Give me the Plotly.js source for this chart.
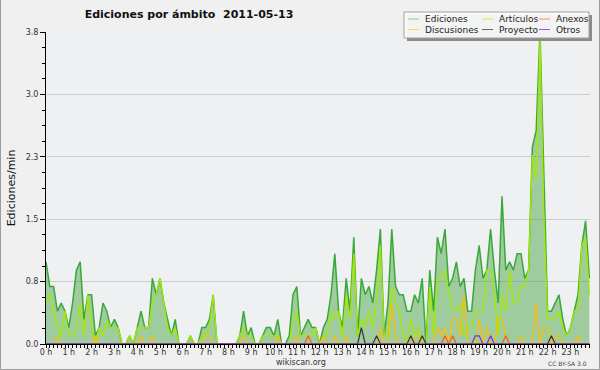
<!DOCTYPE html>
<html>
<head>
<meta charset="utf-8">
<script src="https://cdn.plot.ly/plotly-3.0.1.min.js"></script>
<style>html,body{margin:0;padding:0;background:#f0f0f0;overflow:hidden}#chart{width:600px;height:370px}</style>
</head>
<body>
<div id="chart"></div>
<script>
// ---- data: edits per minute, 10-minute bins, 2011-05-13 ----
const ediciones = [
  1.0,0.7,0.7,0.4,0.5,0.4,0.2,0.5,0.9,1.0,0.3,0.6,
  0.6,0.1,0.2,0.5,0.4,0.2,0.3,0.2,0,0,0.1,0,
  0.2,0.4,0.2,0.2,0.8,0.6,0.8,0.5,0.3,0.1,0.3,0,
  0,0,0.1,0,0,0.2,0.2,0.3,0.6,0,0,0,
  0,0,0,0.1,0.4,0.1,0.2,0,0,0.1,0.2,0.2,
  0.1,0.3,0,0,0.1,0.6,0.7,0.1,0.2,0.3,0.2,0.2,
  0,0.2,0.3,0.6,1.1,0.4,0.2,0.8,0.4,1.3,0.1,0.8,
  0.6,0.7,0.5,0.9,1.4,0.1,0.5,1.4,0.7,0.6,0.6,0.4,
  0.4,0.6,0.5,0.8,0,0.9,0.4,1.3,1.1,1.4,0.7,0.8,
  1.0,0.7,0.8,0.4,0.4,0.9,1.2,0.8,0.9,1.4,0.9,0.5,
  1.8,0.9,1.0,0.9,1.1,1.1,0.8,0.9,2.4,2.6,3.8,2.0,
  0.4,0.4,0.5,0.6,0.3,0.1,0.2,0.4,0.6,1.2,1.5,0.8
];
const articulos = [
  0.5,0.6,0.4,0.2,0.1,0.4,0.1,0.1,0.2,0.5,0.1,0.6,
  0.2,0,0.2,0.1,0.3,0.2,0.2,0.2,0,0,0.1,0,
  0.2,0.2,0.2,0.2,0.5,0.6,0.8,0.5,0.2,0.1,0.2,0,
  0,0,0.1,0,0,0.1,0.1,0.2,0.6,0,0,0,
  0,0,0,0.1,0.2,0.1,0.1,0,0,0.1,0.1,0.1,
  0.1,0.1,0,0,0,0.3,0.4,0.1,0.1,0.1,0.1,0.2,
  0,0.1,0.1,0.4,0.3,0.4,0.1,0.6,0.3,1.1,0.1,0.3,
  0.2,0.4,0.2,0.5,1.2,0.1,0.1,0.7,0.5,0.4,0.1,0,
  0.3,0.1,0.2,0,0,0.7,0.1,0.8,0.8,0.9,0.6,0.4,
  0.4,0.5,0.1,0.2,0.2,0.4,0.4,0.4,0.9,0.9,0.6,0.1,
  0.6,0.4,0.9,0.5,0.5,0.7,0.7,0.9,2.3,2.0,3.7,1.6,
  0.3,0.3,0.3,0.4,0.2,0.1,0.2,0.4,0.4,1.2,1.3,0.6
];
const discusiones = [
  0,0,0,0.1,0,0,0,0,0,0,0,0,
  0,0.1,0,0,0,0,0,0,0,0,0,0,
  0,0.1,0,0,0.1,0,0,0,0,0,0,0,
  0,0,0,0,0,0,0.1,0.1,0,0,0,0,
  0,0,0,0,0.1,0,0,0,0,0,0,0,
  0,0.1,0,0,0,0,0.1,0,0,0,0,0,
  0,0.1,0,0,0.1,0,0,0.1,0,0,0,0,
  0,0,0,0,0.2,0,0,0.5,0.1,0,0,0,
  0,0.1,0.1,0,0,0,0,0.2,0.1,0.2,0,0.3,
  0.3,0.1,0.6,0,0,0,0.3,0,0.2,0,0,0.3,
  0.3,0.1,0,0,0,0.1,0,0,0,0.5,0,0.2,
  0.2,0,0.1,0.1,0,0,0,0,0.1,0,0,0
];
const anexos = [
  0,0,0,0,0,0,0,0,0,0,0,0,
  0,0,0,0,0,0,0,0,0,0,0,0,
  0,0,0,0,0,0,0,0,0,0,0,0,
  0,0,0,0,0,0,0,0,0,0,0,0,
  0,0,0,0,0,0,0,0,0,0,0,0,
  0,0,0,0,0,0,0,0,0,0.1,0,0,
  0,0,0,0,0,0,0,0,0,0,0,0,
  0,0,0,0,0,0,0,0,0,0,0,0,
  0,0,0,0,0,0,0,0,0,0.1,0,0.1,
  0,0,0,0,0,0,0,0,0,0,0,0,
  0,0.1,0,0,0,0,0,0,0,0,0,0,
  0,0,0,0,0,0,0,0,0,0,0,0
];
const proyecto = [
  0,0,0,0,0,0,0,0,0,0,0,0,
  0,0,0,0,0,0,0,0,0,0,0,0,
  0,0,0,0,0,0,0,0,0,0,0,0,
  0,0,0,0,0,0,0,0,0,0,0,0,
  0,0,0,0,0,0,0,0,0,0,0,0,
  0,0,0,0,0,0,0,0,0,0,0,0,
  0,0,0,0,0,0,0,0,0,0,0,0.2,
  0,0,0,0.1,0,0,0,0,0,0,0,0,
  0.1,0,0,0.1,0,0,0,0,0,0,0,0,
  0,0,0,0,0,0,0,0,0,0,0,0,
  0,0,0,0,0,0,0,0,0,0,0,0,
  0,0.1,0,0,0,0,0,0,0,0,0,0
];
const otros = [
  0,0,0,0,0,0,0,0,0,0,0,0,
  0,0,0,0,0,0,0,0,0,0,0,0,
  0,0,0,0,0,0,0,0,0,0,0,0,
  0,0,0,0,0,0,0,0,0,0,0,0,
  0,0,0,0,0,0,0,0,0,0,0,0,
  0,0,0,0,0,0,0,0,0,0,0,0,
  0,0,0,0,0,0,0,0,0,0,0,0,
  0,0,0,0,0,0,0,0,0,0,0,0,
  0,0,0,0,0,0,0,0,0,0,0,0,
  0,0,0,0,0,0.1,0.1,0,0,0.1,0,0,
  0,0,0,0,0,0,0,0,0,0,0,0,
  0,0,0,0,0,0,0,0,0,0,0,0
];
const hourTicks = [0,1,2,3,4,5,6,7,8,9,10,11,12,13,14,15,16,17,18,19,20,21,22,23];
const hourLabels = ['0 h','1 h','2 h','3 h','4 h','5 h','6 h','7 h','8 h','9 h','10 h','11 h',
                    '12 h','13 h','14 h','15 h','16 h','17 h','18 h','19 h','20 h','21 h','22 h','23 h'];
const yTicks = [0,0.76,1.52,2.28,3.04,3.8];
const yLabels = ['0.0','0.8','1.5','2.3','3.0','3.8'];
const seriesNames = ['Ediciones','Artículos','Anexos','Discusiones','Proyecto','Otros'];

// x positions: each bin is 10 minutes (1/6 hour)
const hours = ediciones.map((_, i) => i / 6);

// ---- geometry helpers (pixels -> paper) ----
const W = 600, H = 370, ML = 46, MR = 10, MT = 32, MB = 26;
const PW = W - ML - MR, PH = H - MT - MB;
const px = x => (x - ML) / PW;
const py = y => (H - MB - y) / PH;

const colors = {
  Ediciones: '#3aa83a', Artículos: '#a6e800', Anexos: '#ff5a10',
  Discusiones: '#ffbe00', Proyecto: '#333333', Otros: '#7a2cf0'
};
const legendColors = {
  Ediciones: '#86cc86', Artículos: '#c8ec50', Anexos: '#ff8a5a',
  Discusiones: '#ffd65a', Proyecto: '#666666', Otros: '#9a55f0'
};

const traces = [
  {x: hours, y: ediciones, name: seriesNames[0], type: 'scatter', mode: 'lines',
   fill: 'tozeroy', fillcolor: 'rgba(60,160,60,0.45)', line: {color: colors.Ediciones, width: 1.5}},
  {x: hours, y: articulos, name: seriesNames[1], type: 'scatter', mode: 'lines', line: {color: colors['Artículos'], width: 1.3}},
  {x: hours, y: discusiones, name: seriesNames[3], type: 'scatter', mode: 'lines', line: {color: colors.Discusiones, width: 1.2}},
  {x: hours, y: anexos, name: seriesNames[2], type: 'scatter', mode: 'lines', line: {color: colors.Anexos, width: 1.2}},
  {x: hours, y: proyecto, name: seriesNames[4], type: 'scatter', mode: 'lines', line: {color: colors.Proyecto, width: 1.2}},
  {x: hours, y: otros, name: seriesNames[5], type: 'scatter', mode: 'lines', line: {color: colors.Otros, width: 1.2}}
];

// manual legend (3 columns x 2 rows)
const legCols = [408, 482, 539];
const legRows = [19, 29.5];
const shapes = [
  // outer frame
  {type: 'rect', xref: 'paper', yref: 'paper', x0: px(0.5), x1: px(599.5), y0: py(369.5), y1: py(-4),
   line: {color: '#9c9c9c', width: 1}, fillcolor: 'rgba(0,0,0,0)', layer: 'above'},
  // legend shadow
  {type: 'rect', xref: 'paper', yref: 'paper', x0: px(407), x1: px(592), y0: py(41), y1: py(15),
   line: {width: 0}, fillcolor: '#8a8a8a', layer: 'above'},
  // legend box
  {type: 'rect', xref: 'paper', yref: 'paper', x0: px(404), x1: px(589), y0: py(38), y1: py(12),
   line: {color: '#a0a0a0', width: 1}, fillcolor: 'rgba(250,250,250,0.94)', layer: 'above'}
];
const annotations = [
  {text: 'wikiscan.org', xref: 'paper', yref: 'paper', x: px(301), y: py(362), xanchor: 'center', yanchor: 'middle',
   showarrow: false, font: {family: 'DejaVu Sans', size: 8, color: '#333'}},
  {text: 'CC BY-SA 3.0', xref: 'paper', yref: 'paper', x: px(589), y: py(363), xanchor: 'right', yanchor: 'middle',
   showarrow: false, font: {family: 'DejaVu Sans', size: 6, color: '#444'}}
];
seriesNames.forEach((name, k) => {
  const col = k % 3, row = Math.floor(k / 3);
  const x0 = legCols[col], y = legRows[row];
  shapes.push({type: 'line', xref: 'paper', yref: 'paper', x0: px(x0), x1: px(x0 + 11), y0: py(y), y1: py(y),
               line: {color: legendColors[name], width: 1}, layer: 'above'});
  annotations.push({text: name, xref: 'paper', yref: 'paper', x: px(x0 + 15), y: py(y), xanchor: 'left', yanchor: 'middle',
                    showarrow: false, font: {family: 'DejaVu Sans', size: 9, color: '#222'}});
});

const layout = {
  width: W, height: H,
  margin: {l: ML, r: MR, t: MT, b: MB, pad: 0},
  paper_bgcolor: '#f0f0f0', plot_bgcolor: '#eff0f1',
  font: {family: 'DejaVu Sans', size: 8, color: '#333'},
  showlegend: false,
  title: {text: 'Ediciones por ámbito \u00a02011-05-13', xref: 'paper', x: px(189), xanchor: 'center',
          yref: 'container', y: 1 - 14 / H, yanchor: 'middle',
          font: {family: 'DejaVu Sans', size: 11, weight: 'bold', color: '#111'}},
  xaxis: {range: [0, 23.86], tickmode: 'array', tickvals: hourTicks, ticktext: hourLabels,
          ticks: 'outside', ticklen: 3, tickwidth: 1, tickcolor: '#000', ticklabelstandoff: -3,
          showline: true, linecolor: '#000', linewidth: 1, showgrid: false, zeroline: false,
          tickfont: {family: 'DejaVu Sans', size: 8, color: '#333'},
          minor: {tickmode: 'linear', tick0: 0, dtick: 1 / 6, ticks: 'outside', ticklen: 3, tickwidth: 1, tickcolor: '#000', showgrid: false},
          fixedrange: true},
  yaxis: {range: [0, 3.8], tickmode: 'array', tickvals: yTicks, ticktext: yLabels,
          ticks: 'outside', ticklen: 5, tickwidth: 1, tickcolor: '#000',
          showline: true, linecolor: '#000', linewidth: 1, zeroline: false,
          showgrid: true, gridcolor: '#cdcdcd', gridwidth: 1,
          tickfont: {family: 'DejaVu Sans', size: 8, color: '#333'},
          minor: {tickmode: 'linear', tick0: 0, dtick: 0.19, ticks: 'outside', ticklen: 3, tickwidth: 1, tickcolor: '#000', showgrid: false},
          title: {text: 'Ediciones/min', standoff: 7, font: {family: 'DejaVu Sans', size: 11, color: '#111'}},
          fixedrange: true},
  shapes: shapes,
  annotations: annotations
};

Plotly.newPlot('chart', traces, layout, {staticPlot: true, displayModeBar: false});
</script>
</body>
</html>
